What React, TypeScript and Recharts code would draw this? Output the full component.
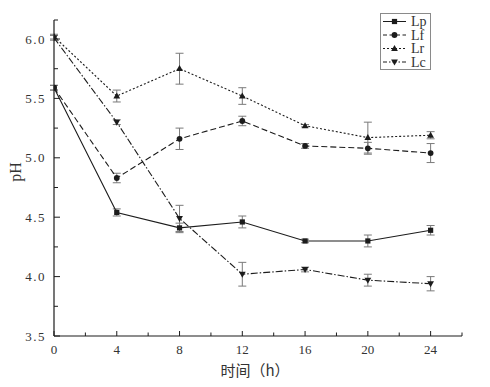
import React from 'react';
import { LineChart, Line, XAxis, YAxis, ErrorBar, Legend } from 'recharts';

const times = [0, 4, 8, 12, 16, 20, 24];
const lp = [5.59, 4.54, 4.41, 4.46, 4.3, 4.3, 4.39];
const lpErr = [0.02, 0.03, 0.04, 0.05, 0.015, 0.05, 0.04];
const lf = [5.59, 4.83, 5.16, 5.31, 5.1, 5.08, 5.04];
const lfErr = [0.02, 0.04, 0.09, 0.04, 0.02, 0.05, 0.08];
const lr = [6.02, 5.52, 5.75, 5.52, 5.27, 5.17, 5.19];
const lrErr = [0.02, 0.05, 0.13, 0.07, 0.01, 0.13, 0.03];
const lc = [6.01, 5.3, 4.49, 4.02, 4.06, 3.97, 3.94];
const lcErr = [0.02, 0.02, 0.11, 0.1, 0.02, 0.05, 0.06];

const seriesNames = ['Lp', 'Lf', 'Lr', 'Lc'];
const xTicks = [0, 2, 4, 6, 8, 10, 12, 14, 16, 18, 20, 22, 24, 26];
const yTicks = [3.5, 3.75, 4.0, 4.25, 4.5, 4.75, 5.0, 5.25, 5.5, 5.75, 6.0, 6.16];
const yDomain = [3.5, 6.16];
const xDomain = [0, 26];

const data = times.map((t, i) => ({
  t,
  Lp: lp[i], LpErr: lpErr[i],
  Lf: lf[i], LfErr: lfErr[i],
  Lr: lr[i], LrErr: lrErr[i],
  Lc: lc[i], LcErr: lcErr[i],
}));

const INK = '#1c1c1c';
const SERIF = '"Liberation Serif", "DejaVu Serif", serif';

const dashes: Record<string, string | undefined> = {
  Lp: undefined,
  Lf: '6 3',
  Lr: '2 2',
  Lc: '7 2 1.5 2',
};

const Marker = ({ kind, cx, cy }: { kind: string; cx: number; cy: number }) => {
  if (cx == null || cy == null) return null;
  if (kind === 'Lp') return <rect x={cx - 2.6} y={cy - 2.6} width={5.2} height={5.2} fill={INK} />;
  if (kind === 'Lf') return <circle cx={cx} cy={cy} r={2.9} fill={INK} />;
  if (kind === 'Lr') return <path d={`M${cx},${cy - 3.6} L${cx + 3.4},${cy + 2.4} L${cx - 3.4},${cy + 2.4} Z`} fill={INK} />;
  return <path d={`M${cx},${cy + 3.6} L${cx + 3.4},${cy - 2.4} L${cx - 3.4},${cy - 2.4} Z`} fill={INK} />;
};

const YTick = (props: any) => {
  const { x, y, payload } = props;
  const v = payload.value as number;
  const major = Math.abs(v * 2 - Math.round(v * 2)) < 1e-6;
  return (
    <g>
      <line x1={x} y1={y} x2={x + (major ? 6 : 4)} y2={y} stroke={INK} strokeWidth={1} />
      {major && (
        <text x={x - 8} y={y} dy={4.5} textAnchor="end" fontFamily={SERIF} fontSize={13} fill="#333" letterSpacing={1.5}>
          {v.toFixed(1)}
        </text>
      )}
    </g>
  );
};

const XTick = (props: any) => {
  const { x, y, payload } = props;
  const v = payload.value as number;
  const major = v % 4 === 0 && v <= 24;
  return (
    <g>
      <line x1={x} y1={y} x2={x} y2={y - (major ? 5 : 3.5)} stroke={INK} strokeWidth={1} />
      {major && (
        <text x={x} y={y} dy={18} textAnchor="middle" fontFamily={SERIF} fontSize={13} fill="#333">
          {v}
        </text>
      )}
    </g>
  );
};

const LegendBox = () => (
  <svg width={52} height={58} style={{ display: 'block' }}>
    <rect x={0.5} y={0.5} width={50} height={56} fill="#fff" stroke="#8a8a8a" strokeWidth={1} />
    {seriesNames.map((n, i) => {
      const cy = 8.5 + i * 13.5;
      return (
        <g key={n}>
          <line x1={3} y1={cy} x2={26} y2={cy} stroke={INK} strokeWidth={1} strokeDasharray={dashes[n] ? (n === 'Lr' ? '2 2' : n === 'Lf' ? '4 2.5' : '4 2 1.5 2') : undefined} />
          <Marker kind={n} cx={14.5} cy={cy} />
          <text x={31} y={cy + 4.5} fontFamily={SERIF} fontSize={14} fill="#333">{n}</text>
        </g>
      );
    })}
  </svg>
);

export default function App() {
  return (
    <div style={{ position: 'absolute', left: 0, top: 0, width: 490, height: 387, background: '#fff' }}>
      <LineChart width={490} height={387} data={data} margin={{ top: 20, right: 28, bottom: 0, left: 0 }}>
        <XAxis
          dataKey="t"
          type="number"
          domain={xDomain}
          ticks={xTicks}
          allowDataOverflow
          interval={0}
          height={51}
          tickSize={0}
          tickMargin={0}
          tick={<XTick />}
          axisLine={{ stroke: INK, strokeWidth: 1.2 }}
          label={{
            content: (p: any) => {
              const vb = p.viewBox;
              return (
                <text x={vb.x + vb.width / 2 - 3} y={vb.y + 40} textAnchor="middle" fontFamily='"Noto Sans CJK SC", sans-serif' fontSize={15} fill="#333">
                  时间（h）
                </text>
              );
            },
          }}
        />
        <YAxis
          type="number"
          domain={yDomain}
          ticks={yTicks}
          allowDataOverflow
          interval={0}
          width={54}
          tickSize={0}
          tickMargin={0}
          tick={<YTick />}
          axisLine={{ stroke: INK, strokeWidth: 1.2 }}
          label={{
            content: (p: any) => {
              const vb = p.viewBox;
              const cx = vb.x + 21;
              const cy = vb.y + vb.height / 2 - 6;
              return (
                <text x={cx} y={cy} transform={`rotate(-90 ${cx} ${cy})`} textAnchor="middle" fontFamily={SERIF} fontSize={16} fill="#333">
                  pH
                </text>
              );
            },
          }}
        />
        <Legend
          layout="vertical"
          align="center"
          verticalAlign="middle"
          wrapperStyle={{ left: 380, top: 13, width: 52, height: 58 }}
          content={() => <LegendBox />}
        />
        {seriesNames.map((n) => (
          <Line
            key={n}
            dataKey={n}
            name={n}
            stroke={INK}
            strokeWidth={1.1}
            strokeDasharray={dashes[n]}
            isAnimationActive={false}
            dot={(p: any) => <Marker key={`${n}-${p.index}`} kind={n} cx={p.cx} cy={p.cy} />}
            activeDot={false}
          >
            <ErrorBar dataKey={`${n}Err`} direction="y" width={4} stroke="#7a7a7a" strokeWidth={1} />
          </Line>
        ))}
      </LineChart>
    </div>
  );
}
